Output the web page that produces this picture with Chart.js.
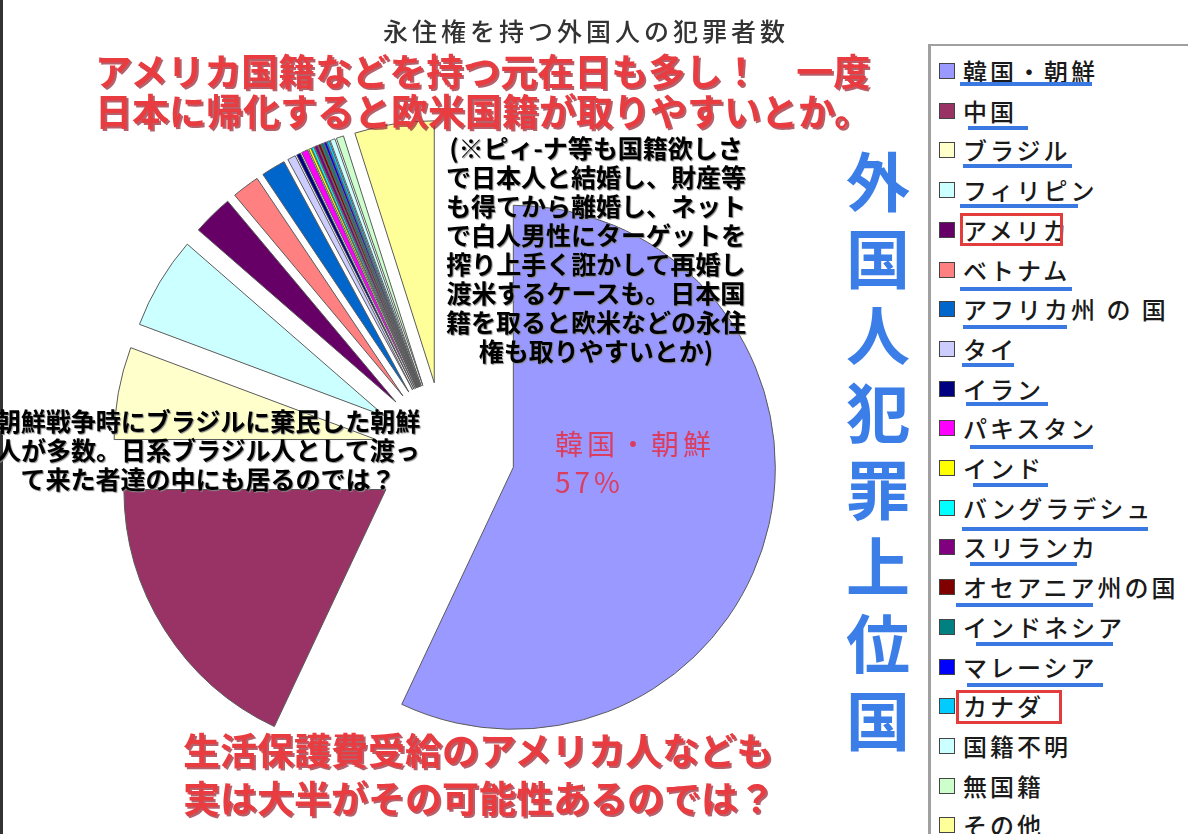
<!DOCTYPE html>
<html><head><meta charset="utf-8">
<script src="https://cdn.jsdelivr.net/npm/chart.js@4.4.1/dist/chart.umd.min.js"></script>
<style>
html,body{margin:0;padding:0;background:#fff;overflow:hidden;}
#wrap{position:relative;width:1188px;height:834px;overflow:hidden;font-family:"Noto Sans CJK JP","Noto Sans",sans-serif;background:#fff;}
#c{position:absolute;left:0;top:0;}
.t{position:absolute;white-space:nowrap;pointer-events:none;}
.red{color:#e93c41;font-weight:bold;text-shadow:2px 2px 0 rgba(150,30,45,0.7);}
.blk{color:#000;font-weight:bold;text-shadow:1px 1px 1px #888;text-align:center;}
#legend{position:absolute;left:928px;top:44px;width:300px;height:900px;border-left:3px solid #a0a0a0;border-top:2px solid #a0a0a0;background:#fff;}
.sw{position:absolute;width:14px;height:14px;border:1px solid #444;}
.lb{position:absolute;font-size:24px;letter-spacing:3px;color:#1a1a1a;font-weight:500;white-space:nowrap;line-height:30px;}
.ul{position:absolute;height:4px;background:#3a78e2;}
.bx{position:absolute;border:3px solid #e23c3c;box-sizing:border-box;}
</style></head><body>
<div id="wrap">
<canvas id="c" width="1188" height="834"></canvas>
<div id="leftbar" style="position:absolute;left:0;top:0;width:3px;height:834px;background:#333;"></div>
</div>
<script>
// ---- data ----
const chartTitle = '永住権を持つ外国人の犯罪者数';
const categories = ['韓国・朝鮮','中国','ブラジル','フィリピン','アメリカ','ベトナム','アフリカ州 の 国','タイ','イラン','パキスタン','インド','バングラデシュ','スリランカ','オセアニア州の国','インドネシア','マレーシア','カナダ','国籍不明','無国籍','その他'];
const shares = [57.0, 18.0, 5.7, 5.7, 2.5, 1.7, 1.5, 0.5, 0.25, 0.4, 0.15, 0.15, 0.2, 0.15, 0.15, 0.15, 0.15, 0.3, 0.45, 4.9];
const topNote = ['アメリカ国籍などを持つ元在日も多し！　一度', '日本に帰化すると欧米国籍が取りやすいとか。'];
const rightNote = ['(※ピィ-ナ等も国籍欲しさ','で日本人と結婚し、財産等','も得てから離婚し、ネット','で白人男性にターゲットを','搾り上手く誑かして再婚し','渡米するケースも。日本国','籍を取ると欧米などの永住','権も取りやすいとか)'];
const leftNote = ['朝鮮戦争時にブラジルに棄民した朝鮮','人が多数。日系ブラジル人として渡っ','て来た者達の中にも居るのでは？'];
const bottomNote = ['生活保護費受給のアメリカ人なども','実は大半がその可能性あるのでは？'];
const sideNote = '外国人犯罪上位国';

// ---- styles ----
const sliceColors = ['#9999ff','#993366','#ffffcc','#ccffff','#660066','#ff8080','#0066cc','#ccccff','#000080','#ff00ff','#ffff00','#00ffff','#800080','#800000','#008080','#0000ff','#00ccff','#ccffff','#ccffcc','#ffff99'];
const EXPLODE = 70;
// underline marks [x0, x1, dy]; red boxes [x0, x1, y0, y1]
const underlines = {0:[960,1092,11],1:[968,1028,15],2:[963,1072,14],3:[960,1078,14],5:[960,1072,17],6:[963,1067,16],7:[962,1014,14],8:[966,1048,13],9:[970,1093,17],10:[973,1048,15],11:[962,1148,19],12:[970,1077,15],13:[956,1093,16],14:[976,1113,15],15:[967,1103,16]};
const redBoxes = {4:[960,1063,213,246],16:[956,1062,690,724]};

const wrap = document.getElementById('wrap');
function addText(lines, cls, style){
  const d = document.createElement('div');
  d.className = 't ' + cls;
  Object.assign(d.style, style);
  d.innerHTML = lines.map(s => s.replace(/&/g,'&amp;').replace(/</g,'&lt;')).join('<br>');
  wrap.appendChild(d);
  return d;
}

// title
addText([chartTitle], '', {left:'336px', top:'12px', width:'500px', textAlign:'center', fontSize:'25px', lineHeight:'36px', letterSpacing:'4px', color:'#333', fontWeight:'500'});

// legend (built from categories / colors)
const leg = document.createElement('div'); leg.id = 'legend'; wrap.appendChild(leg);
categories.forEach((name, i) => {
  const cy = 71 + 39.7 * i;
  const sw = document.createElement('div'); sw.className = 'sw';
  sw.style.left = (939 - 931) + 'px'; sw.style.top = (cy - 8 - 46) + 'px';
  sw.style.background = sliceColors[i];
  leg.appendChild(sw);
  const lb = document.createElement('div'); lb.className = 'lb';
  lb.textContent = name;
  lb.style.left = (963 - 931) + 'px'; lb.style.top = (cy - 15 - 46) + 'px';
  leg.appendChild(lb);
  if (underlines[i]) {
    const [x0, x1, dy] = underlines[i];
    const u = document.createElement('div'); u.className = 'ul';
    u.style.left = (x0 - 931) + 'px'; u.style.width = (x1 - x0) + 'px'; u.style.top = (cy + dy - 46) + 'px';
    leg.appendChild(u);
  }
  if (redBoxes[i]) {
    const [x0, x1, y0, y1] = redBoxes[i];
    const b = document.createElement('div'); b.className = 'bx';
    b.style.left = (x0 - 931) + 'px'; b.style.width = (x1 - x0) + 'px';
    b.style.top = (y0 - 46) + 'px'; b.style.height = (y1 - y0) + 'px';
    leg.appendChild(b);
  }
});

// explode plugin: translate every arc along its mid-angle
const explodePlugin = {
  id: 'explode',
  afterDatasetsUpdate(chart) {
    const meta = chart.getDatasetMeta(0);
    const cx = (chart.chartArea.left + chart.chartArea.right) / 2;
    const cy = (chart.chartArea.top + chart.chartArea.bottom) / 2;
    meta.data.forEach(arc => {
      const mid = (arc.startAngle + arc.endAngle) / 2;
      arc.x = cx + EXPLODE * Math.cos(mid);
      arc.y = cy + EXPLODE * Math.sin(mid);
    });
  }
};

new Chart(document.getElementById('c'), {
  type: 'pie',
  data: {
    labels: categories,
    datasets: [{
      data: shares,
      backgroundColor: sliceColors,
      borderColor: '#5a5a5a',
      borderWidth: 1
    }]
  },
  options: {
    responsive: false,
    animation: false,
    radius: 262,
    layout: { padding: { left: 0, right: 298, top: 70, bottom: 0 } },
    plugins: { legend: { display: false }, title: { display: false }, tooltip: { enabled: false } }
  },
  plugins: [explodePlugin]
});

// slice label for the largest slice
const total = shares.reduce((a, b) => a + b, 0);
addText([categories[0].replace(/\s/g,''), Math.round(shares[0] / total * 100) + '%'], '', {left:'555px', top:'424px', fontSize:'28px', lineHeight:'38px', letterSpacing:'4px', color:'#dc3d5e'});

// annotations
addText(topNote, 'red', {left:'95px', top:'50px', fontSize:'37px', lineHeight:'40px'});
addText(rightNote, 'blk', {left:'446px', top:'133px', width:'300px', fontSize:'25px', lineHeight:'29px'});
addText(leftNote, 'blk', {left:'-42px', top:'406px', width:'500px', fontSize:'25px', lineHeight:'29px'});
addText(bottomNote, 'red', {left:'183px', top:'725px', fontSize:'37px', lineHeight:'48px'});
addText(sideNote.split(''), '', {left:'828px', top:'140px', width:'100px', textAlign:'center', fontSize:'64px', lineHeight:'77px', fontWeight:'600', color:'#3c7ee8'});
</script>
</body></html>
